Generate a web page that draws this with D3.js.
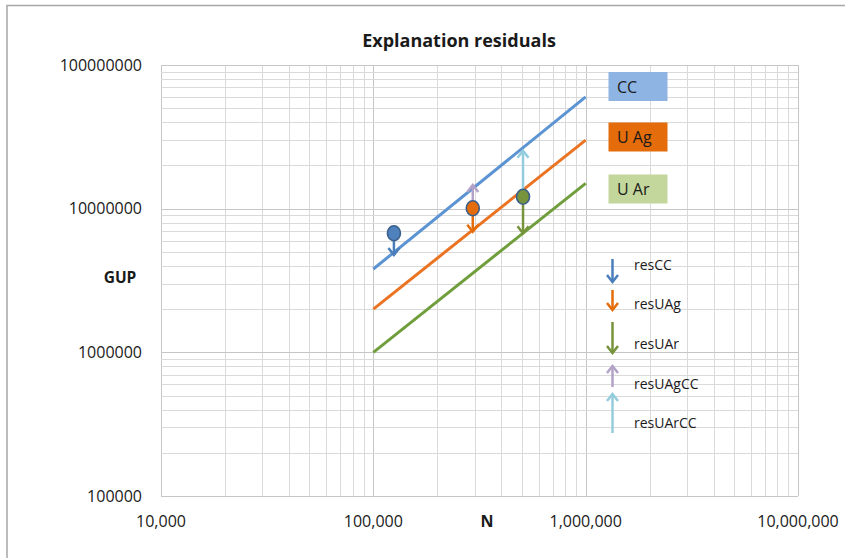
<!DOCTYPE html>
<html><head><meta charset="utf-8">
<script src="https://cdn.jsdelivr.net/npm/d3@7/dist/d3.min.js"></script>
<style>body{margin:0;background:#fff;} text{font-family:"Open Sans","Liberation Sans",sans-serif;fill:#1a1a1a;}</style>
</head><body><svg id="c" width="845" height="558"></svg>
<script>
// ---- data ----
const title = "Explanation residuals";
const xTicks = [1e4, 1e5, 1e6, 1e7];
const xTickLabels = ["10,000", "100,000", "1,000,000", "10,000,000"];
const yTicks = [1e5, 1e6, 1e7, 1e8];
const yTickLabels = ["100000", "1000000", "10000000", "100000000"];
const lineNames = ["CC", "U Ag", "U Ar"];
const lineN = [1e5, 1e6];
const lineCC = [3.8e6, 6.0e7];
const lineUAg = [2.0e6, 3.0e7];
const lineUAr = [1.0e6, 1.5e7];
const pointNames = ["CC", "U Ag", "U Ar"];
const pointN = [125000, 294000, 507000];
const pointGUP = [6.74e6, 1.006e7, 1.211e7];
const arrowNames = ["resCC", "resUAg", "resUAr", "resUAgCC", "resUArCC"];
const arrowPoint = [0, 1, 2, 1, 2];          // which point an arrow starts at
const arrowTo = [4.76e6, 6.91e6, 6.74e6, 1.46e7, 2.53e7];

// ---- styles ----
const lineColors = ["#5b93d3", "#ea7423", "#719e3d"];
const boxColors = ["#8eb4e3", "#e46c0a", "#c3d69b"];
const pointColors = ["#4f81bd", "#e46c0a", "#77933c"];
const arrowColors = ["#4a7ebb", "#e46c0a", "#77933c", "#b3a2c7", "#93cddd"];

const svg = d3.select("#c");
const L = 161, R = 798, T = 65, B = 496;
const x = d3.scaleLog().domain([1e4, 1e7]).range([L, R]);
const y = d3.scaleLog().domain([1e5, 1e8]).range([B, T]);

// outer chart border
svg.append("path").attr("d", "M7,560 L7,5.5 L850,5.5").attr("fill", "none")
  .attr("stroke", "#a6a6a6").attr("stroke-width", 1.5);

// title
svg.append("text").attr("x", 459).attr("y", 47).attr("text-anchor", "middle")
  .attr("font-size", 18).attr("font-weight", "bold").text(title);

// gridlines
const g = svg.append("g");
function minors(lo, hi) { const out = []; for (let d = lo; d < hi; d *= 10) for (let k = 1; k <= 9; k++) out.push(d * k); out.push(hi); return out; }
minors(1e4, 1e7).forEach(v => {
  const major = Math.abs(Math.log10(v) - Math.round(Math.log10(v))) < 1e-9;
  g.append("line").attr("x1", Math.round(x(v)) + 0.5).attr("x2", Math.round(x(v)) + 0.5).attr("y1", T).attr("y2", B)
    .attr("stroke", major ? "#c6c6c6" : "#dadada").attr("stroke-width", 1);
});
minors(1e5, 1e8).forEach(v => {
  const major = Math.abs(Math.log10(v) - Math.round(Math.log10(v))) < 1e-9;
  g.append("line").attr("y1", Math.round(y(v)) + 0.5).attr("y2", Math.round(y(v)) + 0.5).attr("x1", L).attr("x2", R)
    .attr("stroke", major ? "#c6c6c6" : "#dadada").attr("stroke-width", 1);
});

// axis labels
xTicks.forEach((v, i) => svg.append("text").attr("x", x(v)).attr("y", 527).attr("text-anchor", "middle")
  .attr("font-size", 16).text(xTickLabels[i]));
yTicks.forEach((v, i) => svg.append("text").attr("x", 142).attr("y", y(v) + 5.5).attr("text-anchor", "end")
  .attr("font-size", 16).text(yTickLabels[i]));
svg.append("text").attr("x", 487).attr("y", 527).attr("text-anchor", "middle").attr("font-size", 16)
  .attr("font-weight", "bold").text("N");
svg.append("text").attr("x", 120).attr("y", 283).attr("text-anchor", "middle").attr("font-size", 15.5)
  .attr("font-weight", "bold").text("GUP");

// fitted lines
[lineCC, lineUAg, lineUAr].forEach((vals, i) => {
  svg.append("line").attr("x1", x(lineN[0])).attr("y1", y(vals[0])).attr("x2", x(lineN[1])).attr("y2", y(vals[1]))
    .attr("stroke", lineColors[i]).attr("stroke-width", 3);
});

// arrows
function arrow(sel, x0, y0, x1, y1, color) {
  const dir = Math.sign(y1 - y0);
  sel.append("line").attr("x1", x0).attr("y1", y0).attr("x2", x1).attr("y2", y1 - dir * 1.5)
    .attr("stroke", color).attr("stroke-width", 2.5);
  sel.append("path").attr("d", `M${x1 - 5.5},${y1 - dir * 7} L${x1},${y1} L${x1 + 5.5},${y1 - dir * 7}`)
    .attr("fill", "none").attr("stroke", color).attr("stroke-width", 2.5).attr("stroke-linejoin", "miter");
}
const ag = svg.append("g");
const ry = 7.5;
arrowNames.forEach((n, i) => {
  const p = arrowPoint[i];
  const px = x(pointN[p]), py = y(pointGUP[p]);
  const ty = y(arrowTo[i]);
  const dir = Math.sign(ty - py);
  arrow(ag, px, py + dir * ry, px, ty, arrowColors[i]);
});

// points
pointNames.forEach((n, i) => {
  svg.append("ellipse").attr("cx", x(pointN[i])).attr("cy", y(pointGUP[i])).attr("rx", 6.5).attr("ry", ry)
    .attr("fill", pointColors[i]).attr("stroke", "#3a5f8c").attr("stroke-width", 1.6);
});

// legend boxes
const boxY = [72, 122.5, 174.5];
lineNames.forEach((n, i) => {
  svg.append("rect").attr("x", 608.5).attr("y", boxY[i]).attr("width", 59).attr("height", 29).attr("fill", boxColors[i]);
  svg.append("text").attr("x", 617).attr("y", boxY[i] + 20.5).attr("font-size", 16).text(n);
});

// arrow legend
const legTop = [259, 290, 322, 366, 394];
const legBot = [282, 310, 353, 387, 433];
const legText = [270, 309, 349, 389, 428];
arrowNames.forEach((n, i) => {
  const down = i < 3;
  if (down) arrow(svg, 612.5, legTop[i], 612.5, legBot[i], arrowColors[i]);
  else arrow(svg, 612.5, legBot[i], 612.5, legTop[i], arrowColors[i]);
  svg.append("text").attr("x", 634).attr("y", legText[i]).attr("font-size", 14).text(n);
});
</script></body></html>
